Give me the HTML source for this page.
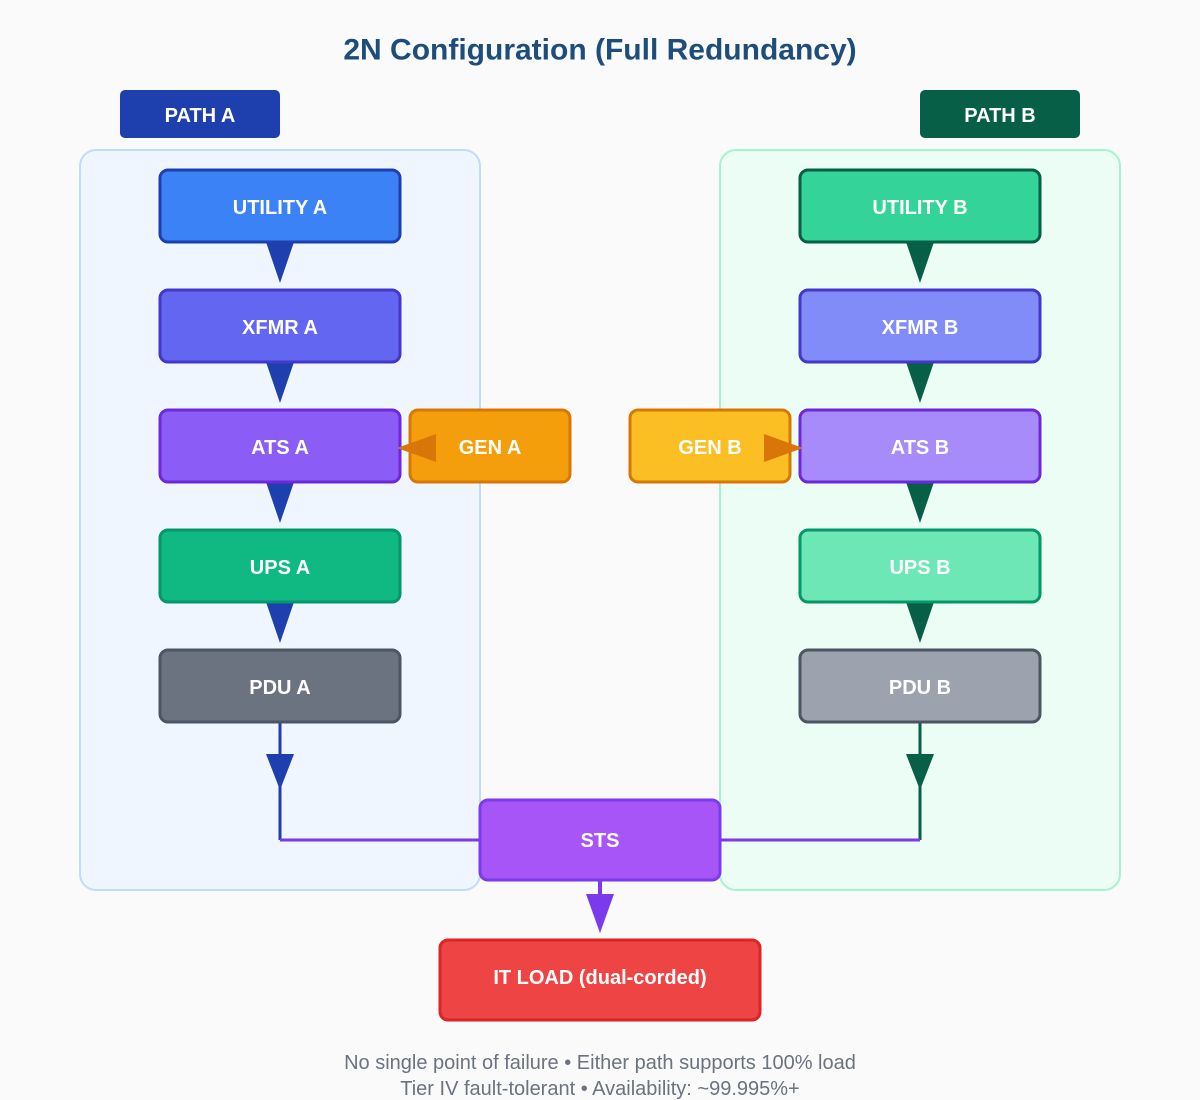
<!DOCTYPE html>
<html><head><meta charset="utf-8"><style>
body{margin:0;background:#fafafa;}
svg{display:block;font-family:"Liberation Sans",sans-serif;}
.t{fill:#fff;font-weight:bold;font-size:20px;text-anchor:middle;dominant-baseline:central;}
</style></head><body>
<svg width="1200" height="1100" viewBox="0 0 1200 1100">
<rect width="1200" height="1100" fill="#fafafa"/>
<text x="600" y="50" text-anchor="middle" dominant-baseline="central" font-size="30" font-weight="bold" fill="#1e4d7b">2N Configuration (Full Redundancy)</text>
<rect x="80" y="150" width="400" height="740" rx="16" fill="#eff6ff" stroke="#bfdbfe" stroke-width="2"/>
<rect x="720" y="150" width="400" height="740" rx="16" fill="#ecfdf5" stroke="#a7f3d0" stroke-width="2"/>
<rect x="120" y="90" width="160" height="48" rx="5" fill="#1e40af"/>
<text class="t" x="200" y="116">PATH A</text>
<rect x="920" y="90" width="160" height="48" rx="5" fill="#065f46"/>
<text class="t" x="1000" y="116">PATH B</text>

<!-- connectors -->
<g fill="#1e40af">
<polygon points="266,242 294,242 280,283"/>
<polygon points="266,362 294,362 280,403"/>
<polygon points="266,482 294,482 280,523"/>
<polygon points="266,602 294,602 280,643"/>
<polygon points="266,754 294,754 280,790"/>
</g>
<line x1="280" y1="722" x2="280" y2="840" stroke="#1e40af" stroke-width="3"/>
<g fill="#065f46">
<polygon points="906,242 934,242 920,283"/>
<polygon points="906,362 934,362 920,403"/>
<polygon points="906,482 934,482 920,523"/>
<polygon points="906,602 934,602 920,643"/>
<polygon points="906,754 934,754 920,790"/>
</g>
<line x1="920" y1="722" x2="920" y2="840" stroke="#065f46" stroke-width="3"/>
<line x1="280" y1="840" x2="480" y2="840" stroke="#7c3aed" stroke-width="3"/>
<line x1="720" y1="840" x2="920" y2="840" stroke="#7c3aed" stroke-width="3"/>
<line x1="600" y1="880" x2="600" y2="897" stroke="#7c3aed" stroke-width="4"/>
<polygon points="586,894 614,894 600,933" fill="#7c3aed"/>

<!-- boxes A -->
<rect x="160" y="170" width="240" height="72" rx="8" fill="#3b82f6" stroke="#1e40af" stroke-width="3"/>
<text class="t" x="280" y="208">UTILITY A</text>
<rect x="160" y="290" width="240" height="72" rx="8" fill="#6366f1" stroke="#4338ca" stroke-width="3"/>
<text class="t" x="280" y="328">XFMR A</text>
<rect x="160" y="410" width="240" height="72" rx="8" fill="#8b5cf6" stroke="#6d28d9" stroke-width="3"/>
<text class="t" x="280" y="448">ATS A</text>
<rect x="160" y="530" width="240" height="72" rx="8" fill="#10b981" stroke="#059669" stroke-width="3"/>
<text class="t" x="280" y="568">UPS A</text>
<rect x="160" y="650" width="240" height="72" rx="8" fill="#6b7280" stroke="#4b5563" stroke-width="3"/>
<text class="t" x="280" y="688">PDU A</text>
<!-- boxes B -->
<rect x="800" y="170" width="240" height="72" rx="8" fill="#34d399" stroke="#065f46" stroke-width="3"/>
<text class="t" x="920" y="208">UTILITY B</text>
<rect x="800" y="290" width="240" height="72" rx="8" fill="#818cf8" stroke="#4338ca" stroke-width="3"/>
<text class="t" x="920" y="328">XFMR B</text>
<rect x="800" y="410" width="240" height="72" rx="8" fill="#a78bfa" stroke="#6d28d9" stroke-width="3"/>
<text class="t" x="920" y="448">ATS B</text>
<rect x="800" y="530" width="240" height="72" rx="8" fill="#6ee7b7" stroke="#059669" stroke-width="3"/>
<text class="t" x="920" y="568">UPS B</text>
<rect x="800" y="650" width="240" height="72" rx="8" fill="#9ca3af" stroke="#4b5563" stroke-width="3"/>
<text class="t" x="920" y="688">PDU B</text>

<!-- GEN -->
<rect x="410" y="410" width="160" height="72" rx="8" fill="#f59e0b" stroke="#d97706" stroke-width="3"/>
<text class="t" x="490" y="448">GEN A</text>
<polygon points="436,434 436,462 397,448" fill="#d97706"/>
<rect x="630" y="410" width="160" height="72" rx="8" fill="#fbbf24" stroke="#d97706" stroke-width="3"/>
<text class="t" x="710" y="448">GEN B</text>
<polygon points="764,434 764,462 803,448" fill="#d97706"/>

<rect x="480" y="800" width="240" height="80" rx="8" fill="#a855f7" stroke="#7c3aed" stroke-width="3"/>
<text class="t" x="600" y="841" font-size="22">STS</text>
<rect x="440" y="940" width="320" height="80" rx="8" fill="#ef4444" stroke="#dc2626" stroke-width="3"/>
<text class="t" x="600" y="978">IT LOAD (dual-corded)</text>

<text x="600" y="1063" text-anchor="middle" dominant-baseline="central" font-size="20" fill="#6b7280">No single point of failure • Either path supports 100% load</text>
<text x="600" y="1089" text-anchor="middle" dominant-baseline="central" font-size="20" fill="#6b7280">Tier IV fault-tolerant • Availability: ~99.995%+</text>
</svg>
</body></html>
